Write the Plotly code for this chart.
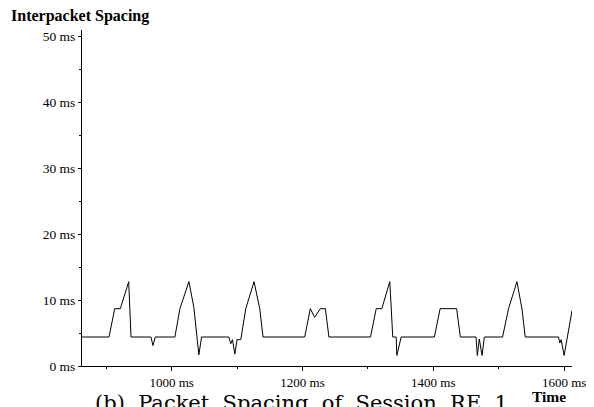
import plotly.graph_objects as go

# Time stamps (ms) and interpacket spacing (ms)
time_ms = [863, 904.3, 913, 921.6, 934.4, 937.9, 968.4, 971.5, 975,
           1005, 1012.7, 1026.4, 1034, 1041.6, 1045.8,
           1087.4, 1090.5, 1093, 1096.6, 1100, 1105.7,
           1113.3, 1126, 1134.7, 1139.7,
           1203.4, 1212, 1218.6, 1227.3, 1235, 1240.4,
           1304, 1312.7, 1321.3, 1333.5, 1338, 1343.3, 1344.2, 1350.9,
           1401.7, 1410.4, 1435.7, 1441.3,
           1465.3, 1467.3, 1470.3, 1474.5, 1478,
           1505.9, 1515, 1527.8, 1535.5, 1540.5,
           1591.3, 1593.4, 1595.4, 1600, 1612]
spacing_ms = [4.4, 4.4, 8.7, 8.7, 12.8, 4.4, 4.4, 3.1, 4.4,
              4.4, 8.7, 12.8, 8.9, 1.7, 4.4,
              4.4, 3.4, 4.0, 1.8, 4.0, 4.0,
              8.7, 12.8, 8.7, 4.4,
              4.4, 8.7, 7.4, 8.7, 8.7, 4.4,
              4.4, 8.7, 8.7, 12.8, 4.4, 4.4, 1.6, 4.4,
              4.4, 8.7, 8.7, 4.4,
              4.4, 1.6, 4.1, 1.6, 4.4,
              4.4, 8.7, 12.8, 8.7, 4.4,
              4.4, 3.5, 4.0, 1.6, 8.4]

x_range = [863, 1612]
y_range = [0, 51]
x_ticks = [1000, 1200, 1400, 1600]
y_ticks = [0, 10, 20, 30, 40, 50]

SERIF = "Liberation Serif"
OFF = 8  # default page body margin

W, H = 594 - OFF, 407 - OFF
L, R, T, B = 82 - OFF, 22, 30 - OFF, 41
PW, PH = W - L - R, H - T - B

fig = go.Figure()
fig.add_trace(go.Scatter(x=time_ms, y=spacing_ms, mode="lines",
                         line=dict(color="black", width=1), showlegend=False,
                         hoverinfo="skip"))

fig.update_layout(
    width=W, height=H,
    margin=dict(l=L, r=R, t=T, b=B, autoexpand=False),
    paper_bgcolor="white", plot_bgcolor="white",
    font=dict(family=SERIF, size=13, color="black"),
    title=dict(text="<b>Interpacket Spacing</b>", xref="container", yref="container",
               x=(11 - OFF) / W, xanchor="left", y=1 - (15 - OFF) / H, yanchor="middle",
               font=dict(family=SERIF, size=16, color="black")),
    xaxis=dict(range=x_range, tickvals=x_ticks, ticktext=[f"{v} ms" for v in x_ticks],
               showgrid=False, zeroline=False, showline=True, linecolor="black",
               linewidth=1, ticks="outside", ticklen=4, tickcolor="black",
               minor=dict(dtick=100, tick0=0, ticks="outside", ticklen=2, tickcolor="black"),
               tickfont=dict(family=SERIF, size=13), automargin=False),
    yaxis=dict(range=y_range, tickvals=y_ticks, ticktext=[f"{v} ms" for v in y_ticks],
               showgrid=False, zeroline=False, showline=True, linecolor="black",
               linewidth=1, ticks="outside", ticklen=3, tickcolor="black",
               minor=dict(dtick=5, tick0=0, ticks="outside", ticklen=2, tickcolor="black"),
               tickfont=dict(family=SERIF, size=13.5), automargin=False),
)

fig.add_annotation(text="<b>Time</b>", xref="paper", yref="paper",
                   x=(568 - 82) / PW, y=(366 - 397) / PH, xanchor="right", yanchor="middle",
                   showarrow=False, font=dict(family=SERIF, size=15.5, color="black"))
fig.add_annotation(text="(b)  Packet  Spacing  of  Session  RE  1", xref="paper", yref="paper",
                   x=(301 - 82) / PW, y=(366 - 389) / PH, xanchor="center", yanchor="top",
                   showarrow=False, font=dict(family="DejaVu Serif", size=21, color="black"))

fig.write_html("out.html")
